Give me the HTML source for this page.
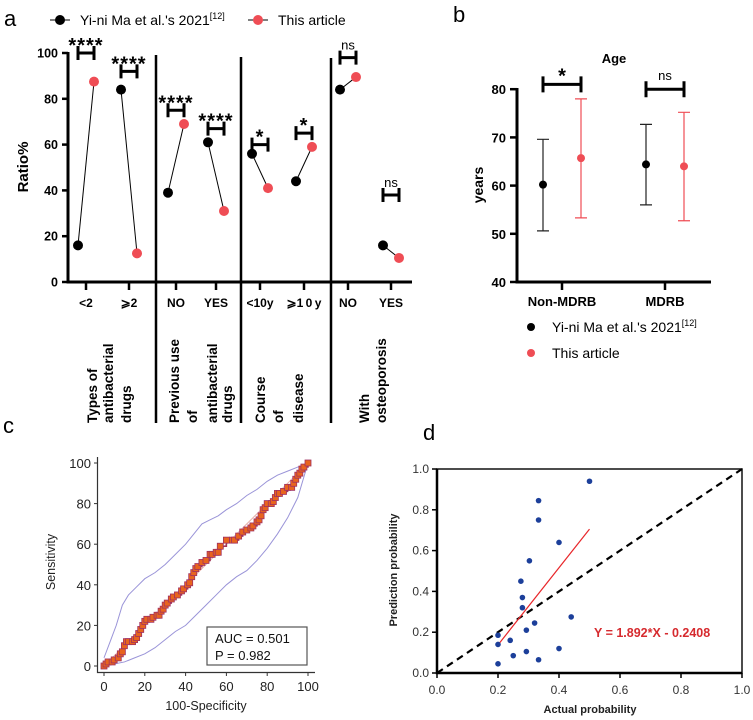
<!DOCTYPE html>
<html><head><meta charset="utf-8"><style>
body{margin:0;background:#fff}
svg{display:block;font-family:"Liberation Sans",Arial,sans-serif}
</style></head><body>
<svg id="s" width="753" height="720" viewBox="0 0 753 720">
<g id="A"></g>
<g id="B"></g>
<g id="C"></g>
<g id="D"></g>
</svg>
<script>
// ---- Panel a data
const aCats=["<2","\u2a7e2","NO","YES","<10y","\u2a7e1\u20090\u2009y","NO","YES"];
const aPrev=[16,84,39,61,56,44,84,16];
const aThis=[87.5,12.5,69,31,41,59,89.5,10.5];
const aSig=["****","****","****","****","*","*","ns","ns"];
const aSigLevel=[100,92,75,67,60,65,98,38];
const aTicks=[0,20,40,60,80,100];
const aGroups=[["Types of","antibacterial","drugs"],["Previous use","of","antibacterial","drugs"],["Course","of","disease"],["With","osteoporosis"]];
// ---- Panel b data
const bCats=["Non-MDRB","MDRB"];
const bPrevMean=[60.2,64.4], bPrevLo=[50.6,56], bPrevHi=[69.6,72.7];
const bThisMean=[65.7,64], bThisLo=[53.3,52.7], bThisHi=[78,75.2];
const bSig=["*","ns"]; const bSigLevel=[81,80];
const bTicks=[40,50,60,70,80];
// ---- Panel c data
const rocX=[0,1,2,4,5,7,8,9,10,11,12,14,15,16,17,18,19,20,21,23,24,26,27,28,29,30,31,33,34,36,38,39,41,42,43,44,45,46,48,50,52,53,55,56,57,60,63,64,66,68,70,72,73,75,76,77,78,79,80,82,83,84,85,86,88,90,92,93,94,95,96,97,98,100];
const rocY=[0,1,2,2,3,4,6,7,10,12,12,12,13,14,16,18,20,22,23,23,24,25,25,27,28,30,31,33,34,35,37,38,40,41,44,46,48,49,51,52,55,55,56,56,59,62,62,62,64,66,67,68,69,71,72,74,77,78,80,80,81,83,85,85,86,88,88,90,92,94,95,97,98,100];
const upX=[0,3,6,9,12,16,20,25,30,35,40,44,48,52,56,60,65,70,75,80,85,90,95,100];
const upY=[4,12,20,30,35,39,43,46,50,55,60,65,70,72,74,77,80,84,87,91,94,96,98,100];
const loX=[0,5,10,15,20,25,30,35,40,45,50,55,60,65,70,75,80,85,90,95,100];
const loY=[0,1,2,4,6,9,13,17,20,25,30,35,40,44,47,52,58,65,73,83,100];
const cTicks=[0,20,40,60,80,100];
// ---- Panel d data
const dX=[0.2,0.2,0.2,0.24,0.25,0.275,0.28,0.28,0.293,0.293,0.303,0.32,0.333,0.333,0.333,0.4,0.4,0.44,0.5];
const dY=[0.185,0.14,0.045,0.16,0.085,0.45,0.37,0.32,0.21,0.105,0.55,0.245,0.845,0.75,0.065,0.64,0.12,0.275,0.94];
const dFit=[0.205,0.5];
const dTicks=[0,0.2,0.4,0.6,0.8,1.0];

const NS="http://www.w3.org/2000/svg";
function mk(p,t,a,txt){const e=document.createElementNS(NS,t);for(const k in a)e.setAttribute(k,a[k]);if(txt!==undefined)e.textContent=txt;p.appendChild(e);return e;}

// ===== Panel A
(function(){
const g=document.getElementById('A');
const ay=v=>282-v*2.29;
const tickX=[86,129,176,216,260,304,348,391];
let t=mk(g,'text',{x:4,y:26,'font-size':22},'a');

let l=mk(g,'g',{});
mk(l,'line',{x1:50,y1:20,x2:70,y2:20,stroke:'#000','stroke-width':1});
mk(l,'circle',{cx:60,cy:20,r:5,fill:'#000'});
t=mk(l,'text',{x:80,y:25,'font-size':14},'Yi-ni Ma et al.\'s 2021');
mk(t,'tspan',{dy:-6,'font-size':9},'[12]');
mk(l,'line',{x1:248,y1:20,x2:268,y2:20,stroke:'#000','stroke-width':1});
mk(l,'circle',{cx:258,cy:20,r:5,fill:'#ef4d55'});
mk(l,'text',{x:278,y:25,'font-size':14},'This article');
let ax=mk(g,'g',{});
mk(ax,'line',{x1:68,y1:52,x2:68,y2:283.5,stroke:'#000','stroke-width':3});
aTicks.forEach(v=>{mk(ax,'line',{x1:62,y1:ay(v),x2:68,y2:ay(v),stroke:'#000','stroke-width':2.5});
 mk(ax,'text',{x:58,y:ay(v)+4.5,'font-size':12.5,'font-weight':'bold','text-anchor':'end'},v);});
t=mk(g,'text',{x:0,y:0,'font-size':15,'font-weight':'bold','text-anchor':'middle',transform:'translate(28,167) rotate(-90)'},'Ratio%');

let xa=mk(g,'g',{});
mk(xa,'line',{x1:67,y1:282,x2:412,y2:282,stroke:'#000','stroke-width':3});
[[156,55],[241,57],[331,58]].forEach(d=>mk(xa,'line',{x1:d[0],y1:d[1],x2:d[0],y2:423,stroke:'#000','stroke-width':2.5}));
aCats.forEach((c,i)=>{mk(xa,'line',{x1:tickX[i],y1:282,x2:tickX[i],y2:290,stroke:'#000','stroke-width':2.5});
 mk(xa,'text',{x:tickX[i],y:307,'font-size':12,'font-weight':'bold','text-anchor':'middle'},c);});
const colX=[[97,113,131],[179,197,217,232],[265,283,303],[369,386]];
aGroups.forEach((gr,i)=>gr.forEach((s,j)=>{const e=mk(xa,'text',{x:0,y:0,'font-size':13.5,'font-weight':'bold',transform:`translate(${colX[i][j]},423) rotate(-90)`},s);
 }));
aCats.forEach((c,i)=>{
 const xb=tickX[i]-8,xr=tickX[i]+8;
 const s=mk(g,'g',{});
 mk(s,'line',{x1:xb,y1:ay(aPrev[i]),x2:xr,y2:ay(aThis[i]),stroke:'#000','stroke-width':1});
 const p=mk(s,'circle',{cx:xb,cy:ay(aPrev[i]),r:5,fill:'#000'});
 
 const q=mk(s,'circle',{cx:xr,cy:ay(aThis[i]),r:5,fill:'#ef4d55'});
 
 const by=ay(aSigLevel[i]);
 const b=mk(g,'g',{});
 mk(b,'path',{d:`M${xb},${by-7}V${by+7}M${xb},${by}H${xr}M${xr},${by-7}V${by+7}`,stroke:'#000','stroke-width':3,fill:'none'});
 if(aSig[i]==='ns') mk(b,'text',{x:tickX[i],y:by-8,'font-size':13,'text-anchor':'middle'},'ns');
 else mk(b,'text',{x:tickX[i],y:by-1,'font-size':20,'font-weight':'bold','text-anchor':'middle','letter-spacing':1},aSig[i]);
});
})();

// ===== Panel B
(function(){
const g=document.getElementById('B');
const by=v=>282-(v-40)*4.82;
const cx=[562,665];
let t=mk(g,'text',{x:453,y:22,'font-size':22},'b');

t=mk(g,'text',{x:614,y:63,'font-size':13,'font-weight':'bold','text-anchor':'middle'},'Age');

let ax=mk(g,'g',{});
mk(ax,'line',{x1:517,y1:88,x2:517,y2:283.5,stroke:'#000','stroke-width':3});
bTicks.forEach(v=>{mk(ax,'line',{x1:510,y1:by(v),x2:517,y2:by(v),stroke:'#000','stroke-width':2.5});
 mk(ax,'text',{x:506,y:by(v)+5,'font-size':13,'font-weight':'bold','text-anchor':'end'},v);});
t=mk(g,'text',{x:0,y:0,'font-size':14,'font-weight':'bold','text-anchor':'middle',transform:'translate(483,185) rotate(-90)'},'years');

let xa=mk(g,'g',{});
mk(xa,'line',{x1:516,y1:282,x2:711,y2:282,stroke:'#000','stroke-width':3});
bCats.forEach((c,i)=>{mk(xa,'line',{x1:cx[i],y1:282,x2:cx[i],y2:290,stroke:'#000','stroke-width':2.5});
 mk(xa,'text',{x:cx[i],y:306,'font-size':13,'font-weight':'bold','text-anchor':'middle'},c);});
bCats.forEach((c,i)=>{
 [[bPrevMean,bPrevLo,bPrevHi,-19,'#000','#222'],[bThisMean,bThisLo,bThisHi,19,'#ef4d55','#ef4d55']].forEach((s,k)=>{
  const x=cx[i]+s[3];
  const e=mk(g,'g',{});
  mk(e,'path',{d:`M${x},${by(s[1][i])}V${by(s[2][i])}M${x-6},${by(s[1][i])}H${x+6}M${x-6},${by(s[2][i])}H${x+6}`,stroke:s[5],'stroke-width':1.2,fill:'none'});
  mk(e,'circle',{cx:x,cy:by(s[0][i]),r:4,fill:s[4]});
 });
 const x1=cx[i]-19,x2=cx[i]+19,y=by(bSigLevel[i]);
 const b=mk(g,'g',{});
 mk(b,'path',{d:`M${x1},${y-8}V${y+8}M${x1},${y}H${x2}M${x2},${y-8}V${y+8}`,stroke:'#000','stroke-width':3,fill:'none'});
 if(bSig[i]==='ns') mk(b,'text',{x:cx[i],y:y-9,'font-size':13,'text-anchor':'middle'},'ns');
 else mk(b,'text',{x:cx[i],y:y-2,'font-size':20,'font-weight':'bold','text-anchor':'middle'},'*');
});
let l=mk(g,'g',{});
mk(l,'circle',{cx:531,cy:327,r:4,fill:'#000'});
t=mk(l,'text',{x:552,y:332,'font-size':14},'Yi-ni Ma et al.\'s 2021');
mk(t,'tspan',{dy:-6,'font-size':9},'[12]');
mk(l,'circle',{cx:531,cy:353,r:4,fill:'#ef4d55'});
mk(l,'text',{x:552,y:358,'font-size':14},'This article');
})();

// ===== Panel C
(function(){
const g=document.getElementById('C');
const cxs=v=>104+v*2.04, cys=v=>666-v*2.03;
let t=mk(g,'text',{x:3,y:433,'font-size':22},'c');

let ax=mk(g,'g',{});
mk(ax,'path',{d:'M97.5,457V672.5H315',stroke:'#333','stroke-width':1.2,fill:'none'});
cTicks.forEach(v=>{
 mk(ax,'line',{x1:94,y1:cys(v),x2:97.5,y2:cys(v),stroke:'#333'});
 mk(ax,'text',{x:91,y:cys(v)+5,'font-size':13,'text-anchor':'end',fill:'#222'},v);
 mk(ax,'line',{x1:cxs(v),y1:672.5,x2:cxs(v),y2:676,stroke:'#333'});
 mk(ax,'text',{x:cxs(v),y:691,'font-size':13,'text-anchor':'middle',fill:'#222'},v);
});
t=mk(g,'text',{x:0,y:0,'font-size':12.5,'text-anchor':'middle',fill:'#222',transform:'translate(55,562) rotate(-90)'},'Sensitivity');

t=mk(g,'text',{x:206,y:710,'font-size':12.5,'text-anchor':'middle',fill:'#222'},'100-Specificity');

mk(g,'line',{x1:cxs(0),y1:cys(0),x2:cxs(100),y2:cys(100),stroke:'#e8b0a8','stroke-width':1});
const pl=(xs,ys,stepped)=>{let d='';xs.forEach((x,i)=>{if(i===0)d+=`M${cxs(x)},${cys(ys[i])}`;else if(stepped)d+=`H${cxs(x)}V${cys(ys[i])}`;else d+=`L${cxs(x)},${cys(ys[i])}`;});return d;};
let e=mk(g,'path',{d:pl(upX,upY),stroke:'#9a94d8','stroke-width':1,fill:'none'});

e=mk(g,'path',{d:pl(loX,loY),stroke:'#9a94d8','stroke-width':1,fill:'none'});

e=mk(g,'path',{d:pl(rocX,rocY,true),stroke:'#a0345a','stroke-width':1.5,fill:'none'});

rocX.forEach((x,i)=>{const r=mk(g,'rect',{x:cxs(x)-3,y:cys(rocY[i])-3,width:6,height:6,fill:'#e8641e',stroke:'#a03060','stroke-width':0.8});
 });
const bx=mk(g,'g',{});
mk(bx,'rect',{x:207,y:627,width:100,height:38,fill:'#fff',stroke:'#555','stroke-width':1.2});
mk(bx,'text',{x:215,y:643,'font-size':13,fill:'#111'},'AUC = 0.501');
mk(bx,'text',{x:215,y:660,'font-size':13,fill:'#111'},'P = 0.982');
})();

// ===== Panel D
(function(){
const g=document.getElementById('D');
const dxs=v=>437+v*305, dys=v=>673-v*204;
let t=mk(g,'text',{x:423,y:440,'font-size':22},'d');

let ax=mk(g,'g',{});
mk(ax,'rect',{x:437,y:469,width:305,height:204,fill:'none',stroke:'#111','stroke-width':1.5});
mk(ax,'path',{d:'M437,469V673H742',stroke:'#000','stroke-width':2.5,fill:'none'});
dTicks.forEach(v=>{
 mk(ax,'line',{x1:432,y1:dys(v),x2:437,y2:dys(v),stroke:'#000','stroke-width':1.5});
 mk(ax,'text',{x:429,y:dys(v)+4,'font-size':12,'text-anchor':'end',fill:'#333'},v.toFixed(1));
 mk(ax,'line',{x1:dxs(v),y1:673,x2:dxs(v),y2:678,stroke:'#000','stroke-width':1.5});
 mk(ax,'text',{x:dxs(v),y:694,'font-size':12,'text-anchor':'middle',fill:'#333'},v.toFixed(1));
});
t=mk(g,'text',{x:0,y:0,'font-size':11,'font-weight':'bold','text-anchor':'middle',fill:'#222',transform:'translate(397,570) rotate(-90)'},'Prediction probability');

t=mk(g,'text',{x:590,y:713,'font-size':11,'font-weight':'bold','text-anchor':'middle',fill:'#222'},'Actual probability');

let e=mk(g,'line',{x1:dxs(0),y1:dys(0),x2:dxs(1),y2:dys(1),stroke:'#000','stroke-width':2.2,'stroke-dasharray':'7,5'});

const f=x=>1.892*x-0.2408;
e=mk(g,'line',{x1:dxs(dFit[0]),y1:dys(f(dFit[0])),x2:dxs(dFit[1]),y2:dys(f(dFit[1])),stroke:'#e8262a','stroke-width':1.2});

dX.forEach((x,i)=>{const c=mk(g,'circle',{cx:dxs(x),cy:dys(dY[i]),r:2.8,fill:'#1c3f9a'});
 });
t=mk(g,'text',{x:594,y:637,'font-size':12.5,'font-weight':'bold',fill:'#d62a2e'},'Y = 1.892*X - 0.2408');

})();
</script>
</body></html>
